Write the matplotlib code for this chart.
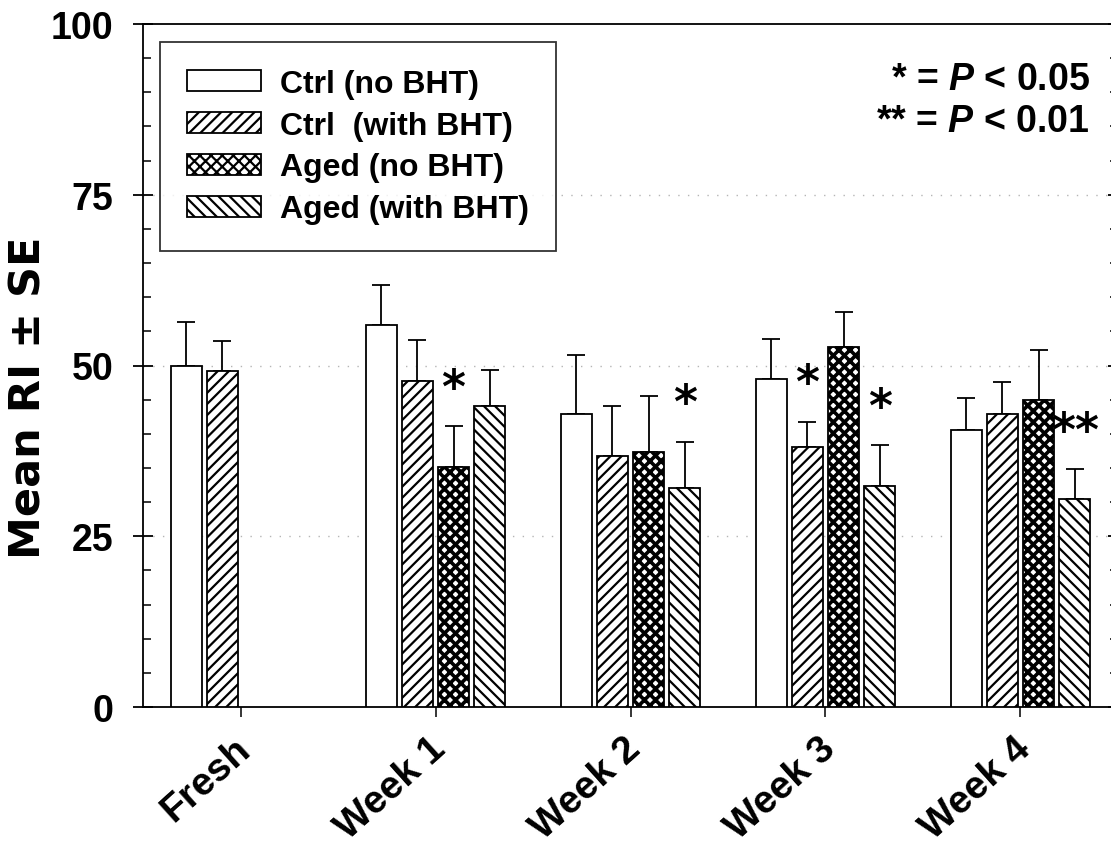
import numpy as np
import matplotlib
matplotlib.use("Agg")
import matplotlib.pyplot as plt
import matplotlib.patches as mpatches
from matplotlib.ticker import FixedLocator, MultipleLocator
from matplotlib.transforms import ScaledTranslation

# ---- data ----
groups = ["Fresh", "Week 1", "Week 2", "Week 3", "Week 4"]
series_labels = ["Ctrl (no BHT)", "Ctrl  (with BHT)", "Aged (no BHT)", "Aged (with BHT)"]

ctrl_no_bht = [50.0, 56.0, 42.9, 48.0, 40.6]
ctrl_no_bht_se = [6.3, 5.8, 8.6, 5.9, 4.6]
ctrl_bht = [49.2, 47.8, 36.8, 38.0, 42.9]
ctrl_bht_se = [4.4, 5.9, 7.3, 3.8, 4.7]
aged_no_bht = [np.nan, 35.2, 37.4, 52.7, 45.0]
aged_no_bht_se = [np.nan, 5.9, 8.1, 5.1, 7.3]
aged_bht = [np.nan, 44.0, 32.1, 32.3, 30.5]
aged_bht_se = [np.nan, 5.4, 6.7, 6.0, 4.3]

# (group index, series index, marker)
significance = [(1, 2, "*"), (2, 3, "*"), (3, 1, "*"), (3, 3, "*"), (4, 3, "**")]

y_ticks = [0, 25, 50, 75, 100]
p_notes = ["* = $P$ < 0.05", "** = $P$ < 0.01"]

# ---- style ----
W, H, DPI = 1111, 854, 100


def px2pt(p):
    return p * 72.0 / DPI


plt.rcParams["font.family"] = ["Liberation Sans", "DejaVu Sans"]
plt.rcParams["font.weight"] = "bold"
plt.rcParams["mathtext.fontset"] = "custom"
plt.rcParams["mathtext.it"] = "Liberation Sans:italic:bold"
plt.rcParams["mathtext.rm"] = "Liberation Sans:bold"
plt.rcParams["mathtext.default"] = "it"
plt.rcParams["hatch.linewidth"] = 1.6

fig = plt.figure(figsize=(W / DPI, H / DPI), dpi=DPI)
fig.patch.set_facecolor("white")
ax = fig.add_axes([143 / W, 1 - 708 / H, (1118 - 143) / W, (708 - 25) / H])

means = [ctrl_no_bht, ctrl_bht, aged_no_bht, aged_bht]
errs = [ctrl_no_bht_se, ctrl_bht_se, aged_no_bht_se, aged_bht_se]
hatches = ["", "///", "xxx", "\\\\\\"]
hatch_lw = [1.6, 1.6, 2.6, 1.6]

pitch = 0.185
width = 0.159
offsets = (np.arange(4) - 1.5) * pitch
xg = np.arange(len(groups))


def set_hatch_lw(patch, lw):
    if hasattr(patch, "set_hatch_linewidth"):
        patch.set_hatch_linewidth(lw)


for i in range(4):
    m = np.asarray(means[i], float)
    s = np.asarray(errs[i], float)
    ok = ~np.isnan(m)
    xs = xg[ok] + offsets[i]
    bars = ax.bar(xs, m[ok], width, facecolor="white", edgecolor="black",
                  hatch=hatches[i], linewidth=1.3, zorder=3)
    for b in bars:
        set_hatch_lw(b, hatch_lw[i])
    ax.errorbar(xs, m[ok], yerr=[np.zeros(ok.sum()), s[ok]], fmt="none",
                ecolor="black", elinewidth=1.3, capsize=6.8, capthick=1.3,
                zorder=2)

# significance markers above the error bars
for g, si, mark in significance:
    top = means[si][g] + errs[si][g]
    ax.text(xg[g] + offsets[si], top + 3.6, mark, ha="center", va="baseline",
            fontsize=33, fontweight="bold", family="DejaVu Sans", zorder=5)

# faint dotted reference lines
for yv in y_ticks[1:-1]:
    ax.axhline(yv, color="#b5b5b5", lw=1.0, ls=(0, (1, 6)), zorder=1)

ax.set_xlim(-0.5, 4.5)
ax.set_ylim(0, 100)
ax.yaxis.set_major_locator(FixedLocator(y_ticks))
ax.yaxis.set_minor_locator(MultipleLocator(5))
ax.set_xticks(xg)
ax.set_xticklabels(groups)

for sp in ax.spines.values():
    sp.set_linewidth(1.3)

ax.tick_params(axis="y", which="major", direction="inout", length=px2pt(20),
               width=1.3, pad=14, labelsize=27, right=True)
ax.tick_params(axis="y", which="minor", direction="in", length=px2pt(8),
               width=1.1, right=True)
ax.tick_params(axis="x", which="major", direction="out", length=px2pt(10),
               width=1.1, pad=px2pt(13), labelsize=28)
shift = ScaledTranslation(-7 / DPI, 0, fig.dpi_scale_trans)
for lbl in ax.get_xticklabels():
    lbl.set_rotation(42)
    lbl.set_ha("right")
    lbl.set_va("top")
    lbl.set_rotation_mode("anchor")
    lbl.set_transform(lbl.get_transform() + shift)

fig.text(28.5 / W, 1 - 398 / H, "Mean RI \u00b1 SE", rotation=90, ha="center",
         va="center", fontsize=31, fontweight="bold", family="DejaVu Sans")

# legend
handles = []
for h, lw in zip(hatches, hatch_lw):
    p = mpatches.Patch(facecolor="white", edgecolor="black", hatch=h,
                       linewidth=1.3)
    set_hatch_lw(p, lw)
    handles.append(p)
leg = fig.legend(handles, series_labels, loc="upper left",
                 bbox_to_anchor=(160 / W, 1 - 43 / H), borderaxespad=0,
                 fontsize=23, frameon=True, fancybox=False, shadow=False,
                 handlelength=2.31, handleheight=0.63, handletextpad=0.62,
                 labelspacing=0.37, borderpad=0.84)
leg.get_frame().set_edgecolor("black")
leg.get_frame().set_linewidth(1.3)

# p-value notes
for k, note in enumerate(p_notes):
    fig.text(1090 / W, 1 - (90 + 42 * k) / H, note, ha="right", va="baseline",
             fontsize=27, fontweight="bold")

fig.savefig("out.png", dpi=DPI, facecolor="white")
